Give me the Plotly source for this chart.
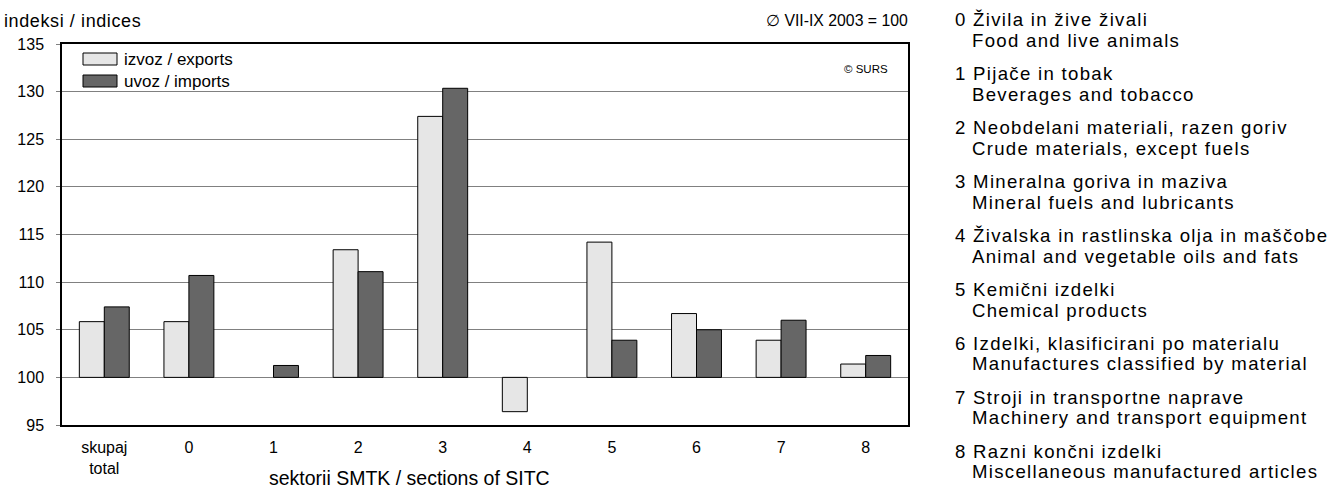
import plotly.graph_objects as go

# ---- data ----
categories = ["skupaj<br>total", "0", "1", "2", "3", "4", "5", "6", "7", "8"]
exports = [105.85, 105.85, None, 113.4, 127.4, 96.4, 114.2, 106.7, 103.9, 101.4]
imports = [107.4, 110.7, 101.25, 111.1, 130.35, None, 103.9, 105.0, 106.0, 102.3]
base_value = 100
y_ticks = [95, 100, 105, 110, 115, 120, 125, 130, 135]
series_names = ["izvoz / exports", "uvoz / imports"]
sections = [
    ("0 Živila in žive živali", "Food and live animals"),
    ("1 Pijače in tobak", "Beverages and tobacco"),
    ("2 Neobdelani materiali, razen goriv", "Crude materials, except fuels"),
    ("3 Mineralna goriva in maziva", "Mineral fuels and lubricants"),
    ("4 Živalska in rastlinska olja in maščobe", "Animal and vegetable oils and fats"),
    ("5 Kemični izdelki", "Chemical products"),
    ("6 Izdelki, klasificirani po materialu", "Manufactures classified by material"),
    ("7 Stroji in transportne naprave", "Machinery and transport equipment"),
    ("8 Razni končni izdelki", "Miscellaneous manufactured articles"),
]

# ---- layout constants (pixels) ----
W, H = 1334, 489
PL, PR, PT, PB = 62, 908, 44, 425
FONT = "Liberation Sans, Arial, sans-serif"
EXP_COLOR = "#e6e6e6"
IMP_COLOR = "#666666"


def px(xp):
    return (xp - PL) / (PR - PL)


def py(yp):
    return (PB - yp) / (PB - PT)


def rel(vals):
    return [None if v is None else v - base_value for v in vals]


fig = go.Figure()
fig.add_trace(go.Bar(
    x=categories, y=rel(exports), base=base_value, name=series_names[0],
    marker=dict(color=EXP_COLOR, line=dict(color="#000000", width=1)),
    showlegend=False,
))
fig.add_trace(go.Bar(
    x=categories, y=rel(imports), base=base_value, name=series_names[1],
    marker=dict(color=IMP_COLOR, line=dict(color="#000000", width=1)),
    showlegend=False,
))

annotations = []
shapes = []


def txt(text, x, y, size, anchor="left", spacing=None):
    if spacing:
        text = '<span style="letter-spacing:%spx">%s</span>' % (spacing, text)
    annotations.append(dict(text=text, x=px(x), y=py(y), xref="paper", yref="paper",
                            xanchor=anchor, yanchor="middle", showarrow=False,
                            font=dict(family=FONT, size=size, color="#000")))


# header texts
txt("indeksi / indices", 2, 21, 18, spacing=0.6)
txt("∅ VII-IX 2003 = 100", 910, 21, 15.8, "right")
txt("© SURS", 890, 69, 11.5, "right")
# x axis title
txt("sektorii SMTK / sections of SITC", 267, 478, 19.5)

# custom legend
for i, (name, col) in enumerate(zip(series_names, [EXP_COLOR, IMP_COLOR])):
    yc = 59 + 22 * i
    shapes.append(dict(type="rect", xref="paper", yref="paper",
                       x0=px(83), x1=px(117), y0=py(yc - 6), y1=py(yc + 6),
                       fillcolor=col, line=dict(color="#000", width=1)))
    txt(name, 122, yc, 17)

# right-side section list
for i, (sl, en) in enumerate(sections):
    y1 = 20 + 53.9 * i
    txt(sl, 953, y1, 18.6, spacing=1.3)
    txt(en, 970, y1 + 20.5, 18.6, spacing=1.3)

fig.update_layout(
    width=W, height=H,
    margin=dict(l=PL, r=W - PR, t=PT, b=H - PB, autoexpand=False),
    paper_bgcolor="white", plot_bgcolor="white",
    barmode="group", bargap=0.41, bargroupgap=0,
    font=dict(family=FONT, size=16, color="#000"),
    annotations=annotations, shapes=shapes,
    showlegend=False,
)
fig.update_xaxes(
    type="category", showgrid=False, showline=True, linecolor="#000", linewidth=1.5, mirror=True,
    ticks="", tickfont=dict(family=FONT, size=16, color="#000"), ticklabelstandoff=7,
)
fig.update_yaxes(
    range=[95, 135], tickvals=y_ticks, showgrid=True, gridcolor="#808080", gridwidth=1.3,
    showline=True, linecolor="#000", linewidth=1.5, mirror=True, zeroline=False,
    ticks="outside", ticklen=4, tickcolor="#808080",
    tickfont=dict(family=FONT, size=16, color="#000"), ticklabelstandoff=9,
)

fig.write_html(
    "out.html",
    config={"displayModeBar": False},
    post_script="document.body.style.margin='0';document.body.style.overflow='hidden';",
)
